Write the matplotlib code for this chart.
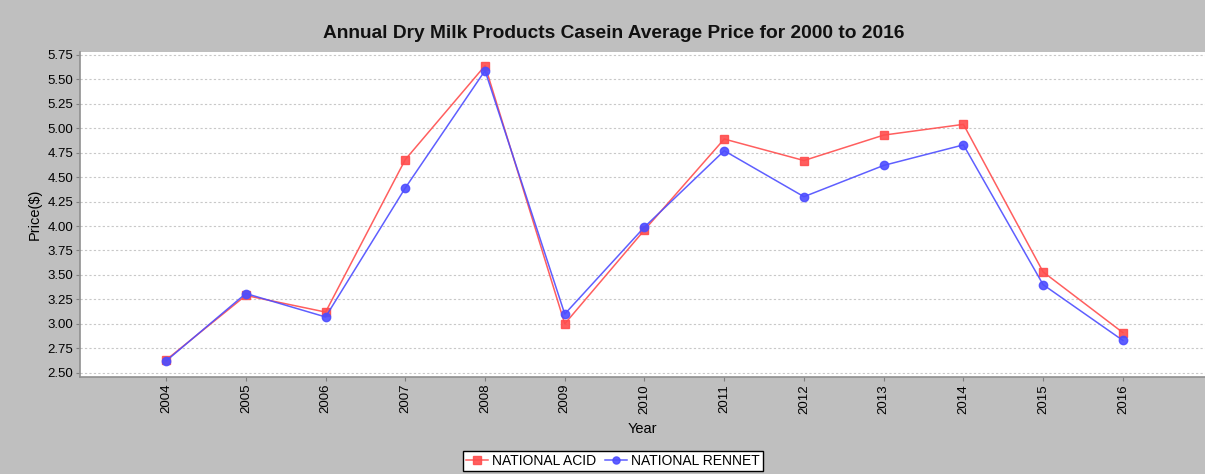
import matplotlib.pyplot as plt
import numpy as np

plt.rcParams['font.family'] = ['Liberation Sans', 'DejaVu Sans']

years = [2004, 2005, 2006, 2007, 2008, 2009, 2010, 2011, 2012, 2013, 2014, 2015, 2016]
acid = [2.63, 3.29, 3.12, 4.68, 5.64, 3.00, 3.96, 4.89, 4.67, 4.93, 5.04, 3.53, 2.91]
rennet = [2.62, 3.31, 3.07, 4.39, 5.59, 3.10, 3.99, 4.77, 4.30, 4.62, 4.83, 3.40, 2.83]
yticks = np.arange(2.5, 5.76, 0.25)

fig = plt.figure(figsize=(12.05, 4.74), dpi=100, facecolor='#bfbfbf')
ax = fig.add_axes([80 / 1205, 1 - 377 / 474, (1205 - 80) / 1205, (377 - 52) / 474])
ax.set_facecolor('white')

ax.plot(years, acid, color='#ff4d4d', lw=1.1, marker='s', ms=6,
        label='NATIONAL ACID', alpha=0.9)
ax.plot(years, rennet, color='#4d4dff', lw=1.1, marker='o', ms=6,
        label='NATIONAL RENNET', alpha=0.9)

ax.set_xlim(2004 - 1.08, 2016 + 1.03)
ax.set_ylim(2.456, 5.78)
ax.set_xticks(years)
ax.set_xticklabels([str(y) for y in years], rotation=90, fontsize=9.5)
ax.set_yticks(yticks)
ax.set_yticklabels(['%.2f' % v for v in yticks], fontsize=9.5)
ax.tick_params(length=3, color='#808080', pad=2)
ax.yaxis.grid(True, color='#c8c8c8', ls=(0, (2, 2)), lw=0.8)
ax.set_axisbelow(True)

for s in ['top', 'right']:
    ax.spines[s].set_visible(False)
for s in ['left', 'bottom']:
    ax.spines[s].set_color('#909090')
    ax.spines[s].set_linewidth(1.2)

ax.set_xlabel('Year', fontsize=10.5, labelpad=6)
ax.set_ylabel('Price($)', fontsize=10.5, labelpad=4)
fig.text(0.509, 1 - 33 / 474, 'Annual Dry Milk Products Casein Average Price for 2000 to 2016',
         ha='center', va='center', fontsize=13.8, fontweight='bold', color='#111111')

leg = fig.legend(loc='center', bbox_to_anchor=(613 / 1205, 1 - 461 / 474), ncol=2,
                 fontsize=10, frameon=True, fancybox=False, edgecolor='black',
                 facecolor='white', framealpha=1,
                 handlelength=1.6, handletextpad=0.3, columnspacing=0.6,
                 borderpad=0.25, borderaxespad=0, markerscale=0.85)
leg.get_frame().set_linewidth(1.0)

fig.savefig('out.png', dpi=100, facecolor=fig.get_facecolor())
